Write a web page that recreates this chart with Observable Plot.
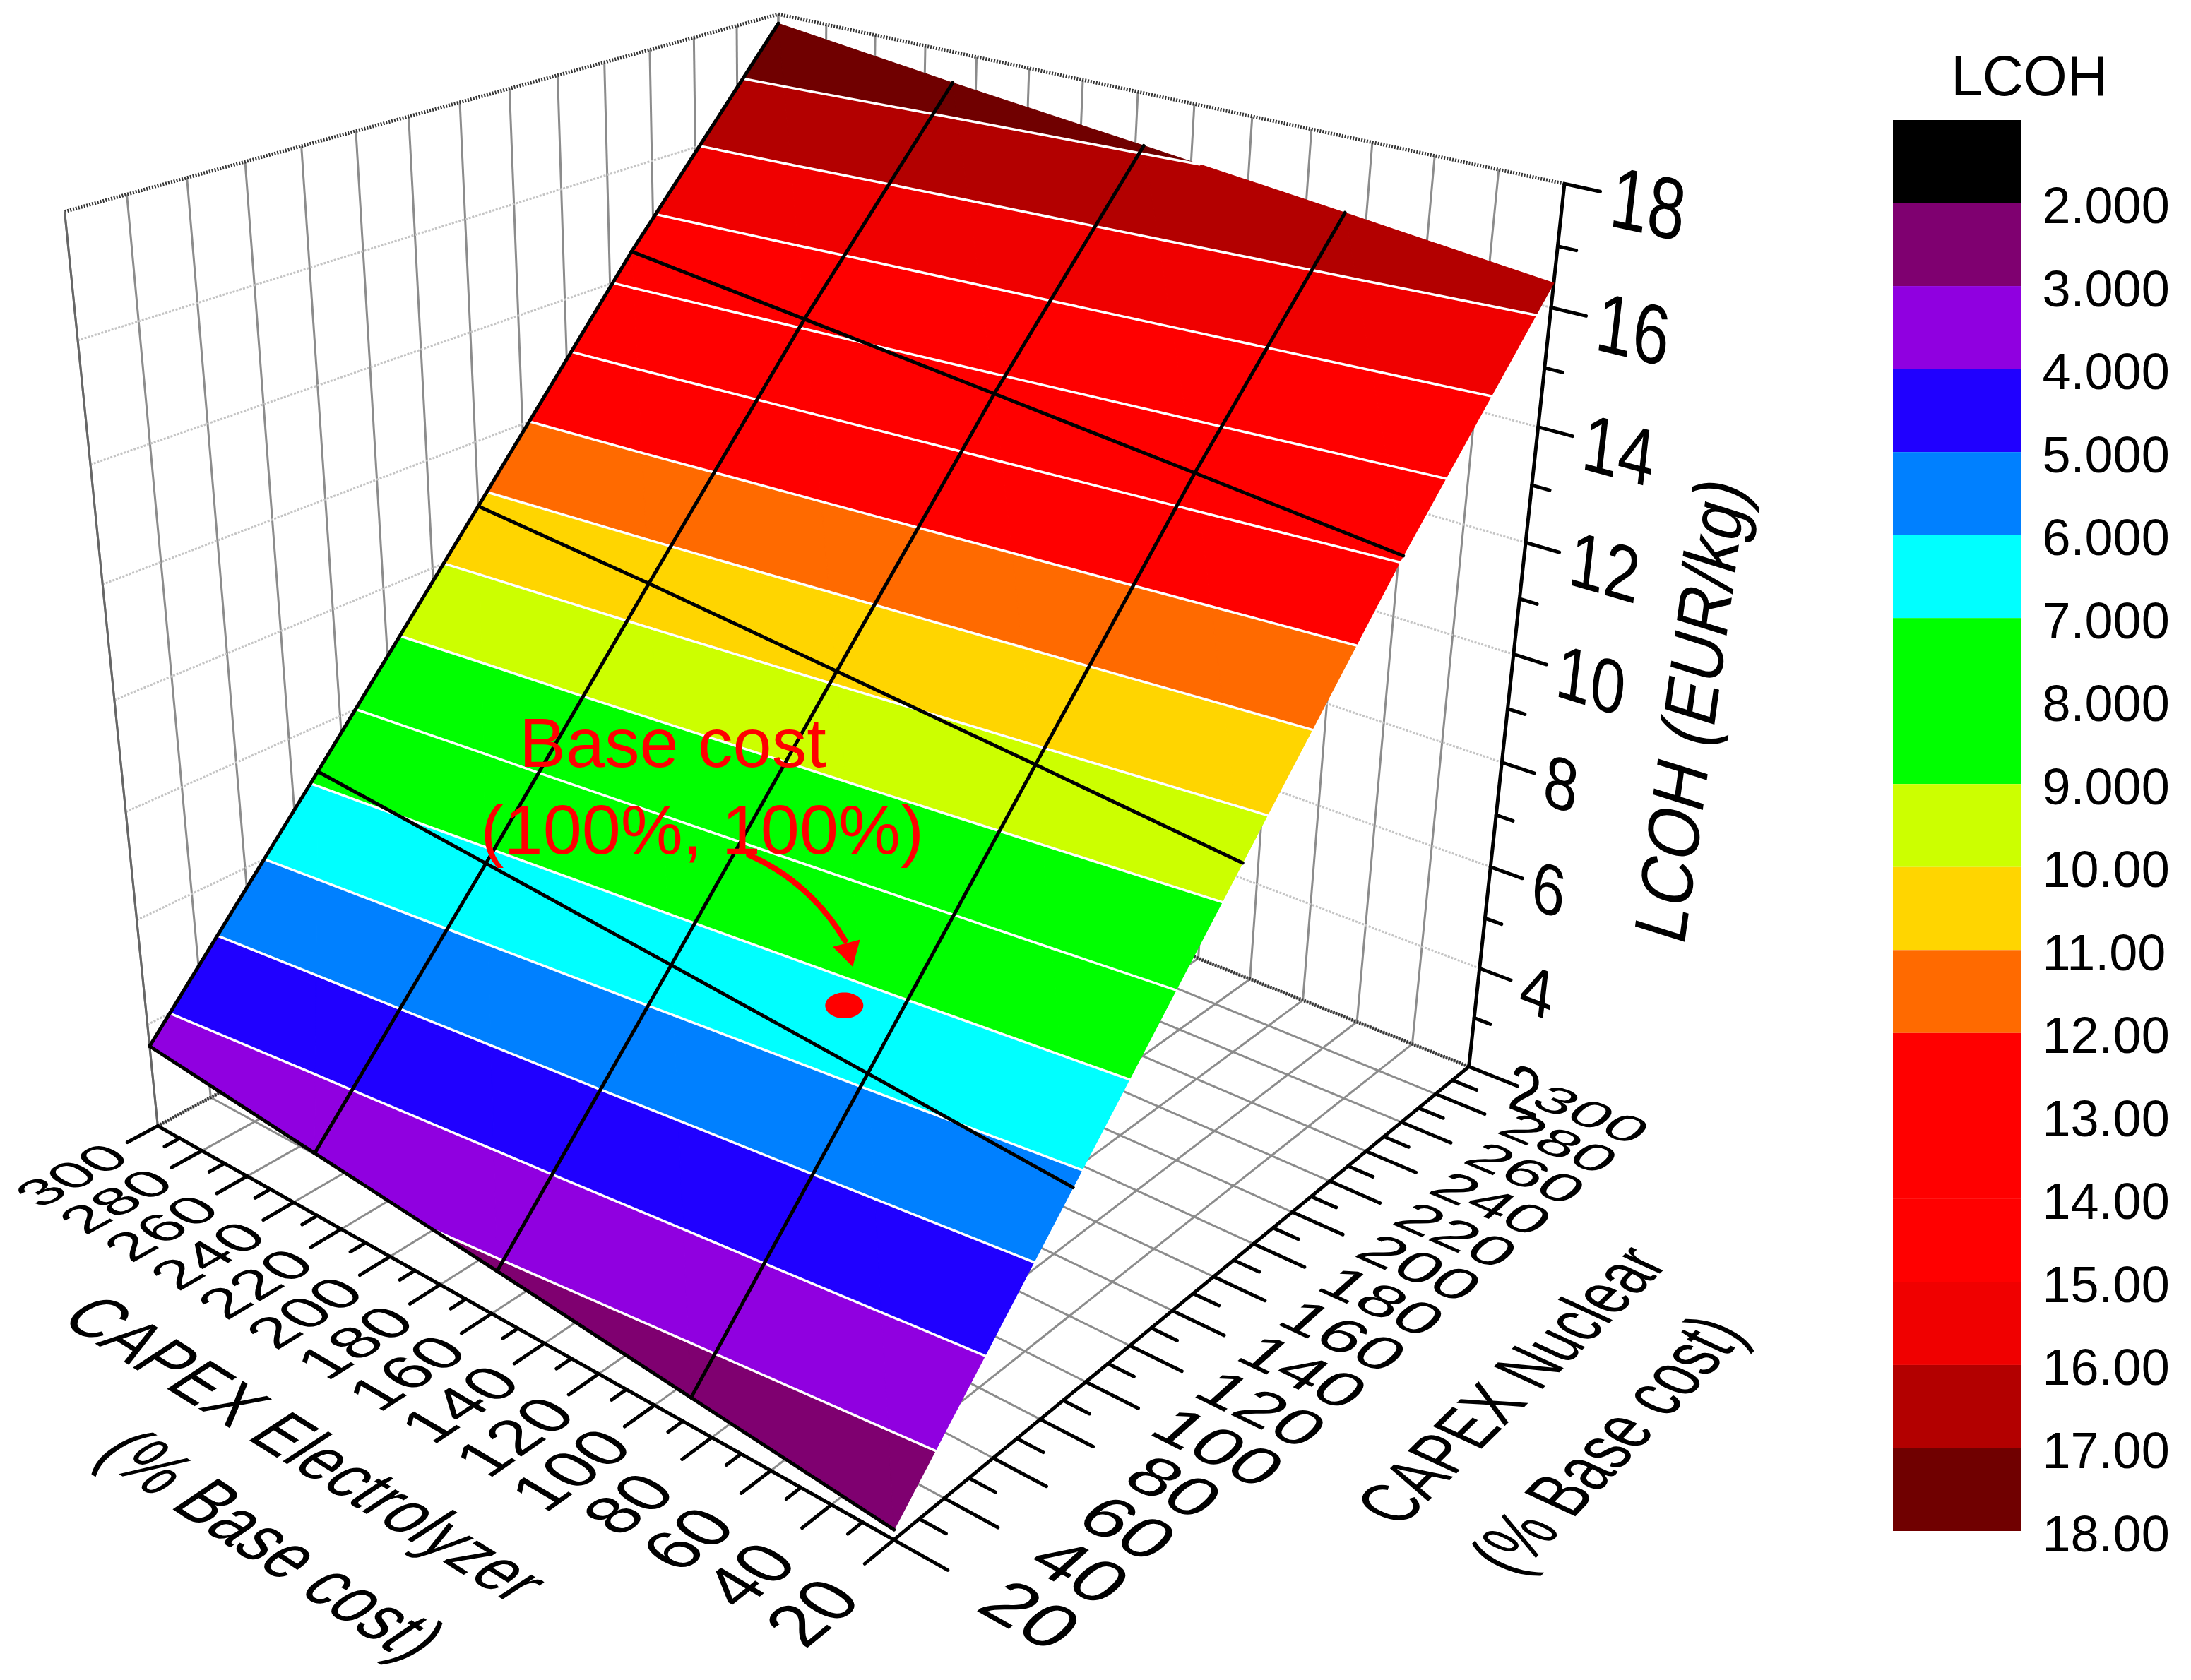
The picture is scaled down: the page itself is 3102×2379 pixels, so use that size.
<!DOCTYPE html>
<html>
<head>
<meta charset="utf-8">
<script src="https://cdn.jsdelivr.net/npm/d3@7"></script>
<script src="https://cdn.jsdelivr.net/npm/@observablehq/plot@0.6"></script>
<style>
html,body{margin:0;padding:0;background:#fff;overflow:hidden}
#row{display:flex;width:3102px;height:2379px}
svg{flex:none;max-width:none!important;height:2379px!important}
</style>
</head>
<body>
<div id="row"></div>
<script>
// ---- data ----
const electrolyzerGrid = [20, 87, 157, 229, 300];
const nuclearGrid = [20, 90, 160, 230, 300];
const lcohN20  = [2.18, 2.52, 2.88, 3.23, 3.58];
const lcohN90  = [5.81, 6.15, 6.49, 6.83, 7.16];
const lcohN160 = [9.45, 9.80, 10.15, 10.50, 10.80];
const lcohN230 = [13.08, 13.42, 13.77, 14.12, 14.46];
const lcohN300 = [16.40, 16.75, 17.10, 17.45, 17.83];
const lcohRows = [lcohN20, lcohN90, lcohN160, lcohN230, lcohN300];
const capexTicks = d3.range(20, 301, 20);
const capexMinor = d3.range(30, 300, 20);
const lcohTicks = d3.range(2, 19, 2);
const lcohMinor = d3.range(3, 18, 2);
const levels = d3.range(2, 18);
const bandColors = ["#000000","#7f0070","#9000e0","#2000ff","#0080ff","#00ffff","#00ff00","#00ff00","#ccff00","#ffd500","#ff6a00","#ff0000","#ff0000","#ff0000","#f00000","#b30000","#700000"];
const baseCost = {E: 103.5, N: 100, z: 6.7};

// ---- camera: one origin, three vanishing points ----
const cam = {o:[1265,2180], ve:[-4866,-1268], vn:[5301,-1142], vz:[1118,10389], p:.2048, q:.2527, r:-.1546};
function P3(a,b,c){
  const w = 1 + cam.p*a + cam.q*b + cam.r*c;
  return [0,1].map(i => (cam.o[i] + cam.p*a*cam.ve[i] + cam.q*b*cam.vn[i] + cam.r*c*cam.vz[i]) / w);
}
const A = E => (E-20)/280, B = N => (N-20)/280, C = z => (z-2)/16;
const P = (E,N,z) => P3(A(E),B(N),C(z));
const seg = (p,q) => ({x1:p[0],y1:p[1],x2:q[0],y2:q[1]});
const link = (rows,o) => Plot.link(rows,{x1:"x1",y1:"y1",x2:"x2",y2:"y2",...o});

// ---- walls and floor ----
const floorGrid = [
  ...capexTicks.map(E => seg(P(E,20,2),P(E,300,2))),
  ...capexTicks.map(N => seg(P(20,N,2),P(300,N,2)))
];
const wallVerticals = [
  ...capexTicks.map(N => seg(P(300,N,2),P(300,N,18))),
  ...capexTicks.map(E => seg(P(E,300,2),P(E,300,18)))
];
const wallLevels = lcohTicks.slice(1,-1).flatMap(z => [seg(P(300,20,z),P(300,300,z)), seg(P(20,300,z),P(300,300,z))]);
const hatchEdges = [
  seg(P(300,20,18),P(300,300,18)), seg(P(300,300,18),P(20,300,18)),
  seg(P(300,20,2),P(300,300,2)), seg(P(300,300,2),P(20,300,2))
];

// ---- axes ----
const axisLines = [seg(P(300,20,2),P(20,20,2)), seg(P(20,20,2),P(20,300,2)), seg(P(20,300,2),P(20,300,18))];
const ticks = [
  ...capexTicks.map(E => seg(P3(A(E),0,0),P3(A(E),-.04,0))),
  ...capexMinor.map(E => seg(P3(A(E),0,0),P3(A(E),-.02,0))),
  ...capexTicks.map(N => seg(P3(0,B(N),0),P3(-.06,B(N),0))),
  ...capexMinor.map(N => seg(P3(0,B(N),0),P3(-.03,B(N),0))),
  ...lcohTicks.slice(1).map(z => seg(P3(0,1,C(z)),P3(-.038,1,C(z)))),
  ...lcohMinor.map(z => seg(P3(0,1,C(z)),P3(-.02,1,C(z))))
];

// ---- text lying in a plane of the box ----
function planeText(rows,{reading,up,emR,emU,...o}){
  const d=.001;
  const add=(r,v,s)=>P3(r.a+v[0]*s,r.b+v[1]*s,r.c+v[2]*s);
  return Plot.text(rows,{
    x:r=>P3(r.a,r.b,r.c)[0], y:r=>P3(r.a,r.b,r.c)[1], text:"label",
    fontSize:100, lineAnchor:"middle", fill:"black", ...o,
    render(index,scales,values,dims,ctx,next){
      const g=next(index,scales,values,dims,ctx);
      d3.select(g).selectAll("text").attr("transform",i=>{
        const r=rows[i], p=P3(r.a,r.b,r.c), pr=add(r,reading,d), pu=add(r,up,d);
        const kr=emR/100/d, ku=emU/100/d;
        return `matrix(${(pr[0]-p[0])*kr},${(pr[1]-p[1])*kr},${-(pu[0]-p[0])*ku},${-(pu[1]-p[1])*ku},${p[0]},${p[1]})`;
      });
      return g;
    }
  });
}
const electrolyzerLabels = capexTicks.map(E=>({a:A(E)-.006,b:-.115,c:0,label:String(E)}));
const nuclearLabels = capexTicks.map(N=>({a:-.148,b:B(N),c:0,label:String(N)}));
const lcohLabels = lcohTicks.map(z=>({a:-.05,b:1,c:C(z)-.004,label:String(z)}));

// ---- surface: bands and contours from the grid ----
const grid = lcohRows.map((row,j)=>row.map((z,i)=>({a:A(electrolyzerGrid[i]),b:B(nuclearGrid[j]),z})));
const triangles=[];
for(let j=0;j<4;j++)for(let i=0;i<4;i++){
  triangles.push([grid[j][i],grid[j][i+1],grid[j+1][i+1]],[grid[j][i],grid[j+1][i+1],grid[j+1][i]]);
}
const mix=(u,v,L)=>{const t=(L-u.z)/(v.z-u.z);return {a:u.a+t*(v.a-u.a),b:u.b+t*(v.b-u.b),z:L};};
function clip(poly,L,above){
  const out=[];
  poly.forEach((u,k)=>{
    const v=poly[(k+1)%poly.length];
    const ui=above?u.z>=L:u.z<=L, vi=above?v.z>=L:v.z<=L;
    if(ui)out.push(u);
    if(ui!==vi)out.push(mix(u,v,L));
  });
  return out;
}
const surf=p=>P3(p.a,p.b,C(p.z));
const bandPoints=[]; let polyId=0;
for(const lo of d3.range(2,18)){
  for(const t of triangles){
    const poly=clip(clip(t,lo,true),lo+1,false);
    if(poly.length<3)continue;
    polyId++;
    for(const p of poly){const [x,y]=surf(p);bandPoints.push({id:polyId,lo,x,y});}
  }
}
const contours=[];
for(const L of d3.range(3,18)){
  for(const t of triangles){
    const hits=[];
    t.forEach((u,k)=>{const v=t[(k+1)%3]; if((u.z<L)!==(v.z<L))hits.push(mix(u,v,L));});
    if(hits.length===2)contours.push(seg(surf(hits[0]),surf(hits[1])));
  }
}
const meshLines=[];
[0,1,2,3].forEach(j=>{for(let i=0;i<4;i++)meshLines.push(seg(surf(grid[j][i]),surf(grid[j][i+1])));});
[1,2,3,4].forEach(i=>{for(let j=0;j<4;j++)meshLines.push(seg(surf(grid[j][i]),surf(grid[j+1][i])));});

// ---- colour scale shared by surface and legend ----
const colorScale={type:"threshold",domain:levels,range:bandColors};

// ---- annotation ----
const [bx,by]=P(baseCost.E,baseCost.N,baseCost.z);
const base=[{x:bx,y:by}];
const ellipse={draw(ctx,size){
  const r=Math.sqrt(size/Math.PI), s=r*.68, k=.5523;
  ctx.moveTo(r,0);
  ctx.bezierCurveTo(r,k*s,k*r,s,0,s);
  ctx.bezierCurveTo(-k*r,s,-r,k*s,-r,0);
  ctx.bezierCurveTo(-r,-k*s,-k*r,-s,0,-s);
  ctx.bezierCurveTo(k*r,-s,r,-k*s,r,0);
  ctx.closePath();
}};

const W=2600,H=2379;
const main=Plot.plot({
  width:W,height:H,margin:0,
  x:{domain:[0,W],range:[0,W],axis:null},
  y:{domain:[0,H],range:[0,H],axis:null},
  color:colorScale,
  style:{fontFamily:"'Liberation Sans',Arial,sans-serif",background:"#fff",overflow:"visible"},
  marks:[
    link(floorGrid,{stroke:"#8c8c8c",strokeWidth:3}),
    link(wallVerticals,{stroke:"#8c8c8c",strokeWidth:3}),
    link(wallLevels,{stroke:"#c4c4c4",strokeWidth:3,strokeDasharray:"3,2"}),
    link(hatchEdges,{stroke:"#333",strokeWidth:5,strokeDasharray:"2,2"}),
    link([seg(P(300,20,2),P(300,20,18))],{stroke:"#666",strokeWidth:3}),
    link(axisLines,{stroke:"black",strokeWidth:5}),
    link(ticks,{stroke:"black",strokeWidth:5,strokeLinecap:"round"}),
    Plot.line(bandPoints,{x:"x",y:"y",z:"id",fill:"lo",stroke:"lo",strokeWidth:1.2,curve:"linear-closed"}),
    link(contours,{stroke:"white",strokeWidth:3.5,strokeLinecap:"round"}),
    link(meshLines,{stroke:"black",strokeWidth:5,strokeLinecap:"round"}),
    planeText(electrolyzerLabels,{reading:[0,1,0],up:[1,0,0],emR:.07,emU:.072,textAnchor:"middle"}),
    planeText(nuclearLabels,{reading:[-1,0,0],up:[0,1,0],emR:.074,emU:.075,textAnchor:"middle"}),
    planeText(lcohLabels,{reading:[-1,0,0],up:[0,0,1],emR:.07,emU:.085,textAnchor:"start"}),
    planeText([{a:.485,b:-.25,c:0,label:"CAPEX Electrolyzer"}],{reading:[-1,0,0],up:[0,1,0],emR:.069,emU:.075,textAnchor:"middle"}),
    planeText([{a:.41,b:-.355,c:0,label:"(% Base cost)"}],{reading:[-1,0,0],up:[0,1,0],emR:.066,emU:.075,textAnchor:"middle"}),
    planeText([{a:-.31,b:.54,c:0,label:"CAPEX Nuclear"},{a:-.42,b:.52,c:0,label:"(% Base cost)"}],{reading:[0,1,0],up:[1,0,0],emR:.072,emU:.075,textAnchor:"middle"}),
    planeText([{a:-.2,b:1,c:.5,label:"LCOH (EUR/kg)"}],{reading:[0,0,1],up:[1,0,0],emR:.071,emU:.078,textAnchor:"middle"}),
    Plot.dot(base,{x:"x",y:"y",symbol:ellipse,r:27,fill:"red",stroke:"none"}),
    Plot.arrow(base,{x1:d=>d.x-135,y1:d=>d.y-213,x2:d=>d.x+1,y2:d=>d.y-92,bend:18,stroke:"red",strokeWidth:8,headLength:0}),
    Plot.dot(base,{x:d=>d.x+6,y:d=>d.y-77,symbol:"triangle2",r:19,rotate:165,fill:"red",stroke:"none"}),
    Plot.text(base,{x:"x",y:"y",text:()=>"Base cost",fill:"red",fontSize:99,lineAnchor:"bottom",dx:-243,dy:-338}),
    Plot.text(base,{x:"x",y:"y",text:()=>"(100%, 100%)",fill:"red",fontSize:99,lineAnchor:"bottom",dx:-201,dy:-215})
  ]
});

// ---- legend ----
const legendCells=[1,...levels].map(lo=>({lo,hi:lo+1}));
const legend=Plot.plot({
  width:502,height:H,marginLeft:80,marginRight:240,marginTop:170,marginBottom:211,
  x:{domain:[0,1],axis:null},
  y:{domain:[1,18],reverse:true,axis:null},
  color:colorScale,
  style:{fontFamily:"'Liberation Sans',Arial,sans-serif",background:"#fff",overflow:"visible"},
  marks:[
    Plot.rect(legendCells,{x1:()=>0,x2:()=>1,y1:"lo",y2:"hi",fill:"lo"}),
    Plot.text(d3.range(2,19),{x:()=>1,y:d=>d,text:d=>d3.format(".4r")(d),textAnchor:"start",dx:29,dy:5,fontSize:72,fill:"black"}),
    Plot.text(["LCOH"],{x:()=>1.06,y:()=>.7,text:d=>d,fontSize:80,lineAnchor:"bottom",fill:"black"})
  ]
});
document.getElementById("row").append(main,legend);
</script>
</body>
</html>
